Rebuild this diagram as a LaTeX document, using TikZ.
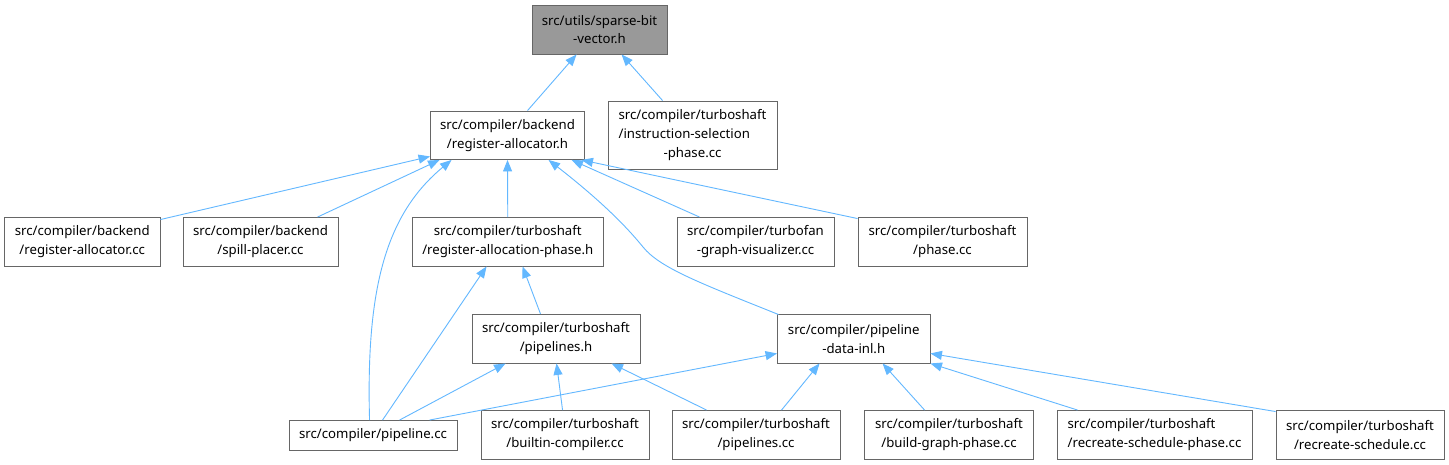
\documentclass[tikz,border=0pt]{standalone}
\usepackage{fontspec}
\setmainfont{Noto Sans}
\usetikzlibrary{arrows.meta,calc}
\definecolor{boxgray}{HTML}{666666}
\definecolor{rootfill}{HTML}{999999}
\definecolor{edgeblue}{HTML}{63B8FF}
\begin{document}
\begin{tikzpicture}[x=1pt,y=-1pt,
  box/.style={draw=boxgray, line width=0.9pt, fill=white, inner sep=0pt, align=center,
    font=\fontsize{13.2}{18.8}\selectfont, minimum height=48.5pt},
  rootbox/.style={box, fill=rootfill},
  edge/.style={draw=edgeblue, line width=0.9pt, -{Triangle[length=11.5pt,width=9pt]}}]
\useasboundingbox (0,0) rectangle (1449,465);
\fill[white] (0,0) rectangle (1449,465);
% nodes
\node[rootbox, minimum width=135pt, minimum height=49pt] (root) at (599.5,29.5) {src/utils/sparse-bit\\-vector.h};
\node[box, minimum width=154pt] (rah) at (507.5,135.25) {src/compiler/backend\\/register-allocator.h};
\node[box, minimum width=169pt, minimum height=68pt] (isp) at (692.5,135) {\begin{tabular}{@{}l@{}}src/compiler/turboshaft\\/instruction-selection\\\multicolumn{1}{@{}c@{}}{-phase.cc}\end{tabular}};
\node[box, minimum width=155.5pt] (racc) at (82.25,241.75) {src/compiler/backend\\/register-allocator.cc};
\node[box, minimum width=155pt] (spill) at (260.5,241.75) {src/compiler/backend\\/spill-placer.cc};
\node[box, minimum width=190.5pt] (raph) at (507.75,241.75) {src/compiler/turboshaft\\/register-allocation-phase.h};
\node[box, minimum width=157pt] (tf) at (755.5,241.75) {src/compiler/turbofan\\-graph-visualizer.cc};
\node[box, minimum width=169pt] (phase) at (942.5,241.75) {src/compiler/turboshaft\\/phase.cc};
\node[box, minimum width=168pt] (plh) at (556,338.75) {src/compiler/turboshaft\\/pipelines.h};
\node[box, minimum width=152.5pt] (pdi) at (853.75,338.75) {src/compiler/pipeline\\-data-inl.h};
\node[box, minimum width=168pt, minimum height=29.5pt] (pcc) at (373,435.25) {src/compiler/pipeline.cc};
\node[box, minimum width=168pt] (builtin) at (565,434.75) {src/compiler/turboshaft\\/builtin-compiler.cc};
\node[box, minimum width=168pt] (plcc) at (756,434.75) {src/compiler/turboshaft\\/pipelines.cc};
\node[box, minimum width=169pt] (bg) at (949,434.75) {src/compiler/turboshaft\\/build-graph-phase.cc};
\node[box, minimum width=195pt, align=left] (rsp) at (1154.5,434.75) {src/compiler/turboshaft\\/recreate-schedule-phase.cc};
\node[box, minimum width=168pt] (rs) at (1360,434.75) {src/compiler/turboshaft\\/recreate-schedule.cc};
% edges
\draw[edge] ($(rah.north west)+(97.5,0)$) -- ($(root.south west)+(45,0)$);
\draw[edge] ($(isp.north west)+(55,0)$) -- ($(root.south west)+(90,0)$);
\draw[edge] ($(racc.north east)+(0,2.5)$) -- ($(rah.south west)+(0,-3.5)$);
\draw[edge] ($(spill.north west)+(135,0)$) -- ($(rah.south west)+(9.5,0)$);
\draw[edge] (raph.north) -- (rah.south);
\draw[edge] ($(tf.north west)+(23,0)$) -- ($(rah.south west)+(141.5,0)$);
\draw[edge] ($(phase.north west)+(0,1.5)$) -- ($(rah.south east)+(-3.5,0)$);
\draw[edge] ($(pcc.north west)+(81,0)$) .. controls (366,290) and (385,215) .. ($(rah.south west)+(21.5,0)$);
\draw[edge] ($(pdi.north west)+(1.5,0.5)$) .. controls (700,283) and (660,268) .. (643,247) .. controls (626,226) and (600,200) .. ($(rah.south west)+(118.5,0)$);
\draw[edge] ($(pcc.north west)+(94,0)$) -- ($(raph.south west)+(74.5,0)$);
\draw[edge] ($(plh.north west)+(69,0)$) -- ($(raph.south west)+(110.5,0)$);
\draw[edge] ($(pcc.north west)+(111,0)$) -- ($(plh.south west)+(34,0)$);
\draw[edge] ($(builtin.north west)+(82,0)$) -- ($(plh.south west)+(85,0)$);
\draw[edge] ($(plcc.north west)+(35,0)$) -- ($(plh.south west)+(140,0)$);
\draw[edge] ($(pcc.north west)+(141,0)$) -- ($(pdi.south west)+(0,-10)$);
\draw[edge] ($(plcc.north west)+(110,0)$) -- ($(pdi.south west)+(42.5,0)$);
\draw[edge] ($(bg.north west)+(60.5,0)$) -- ($(pdi.south west)+(105.5,0)$);
\draw[edge] ($(rsp.north west)+(21,0)$) -- (pdi.south east);
\draw[edge] ($(rs.north west)+(0,1.5)$) -- ($(pdi.south east)+(0,-10)$);
\end{tikzpicture}
\end{document}
